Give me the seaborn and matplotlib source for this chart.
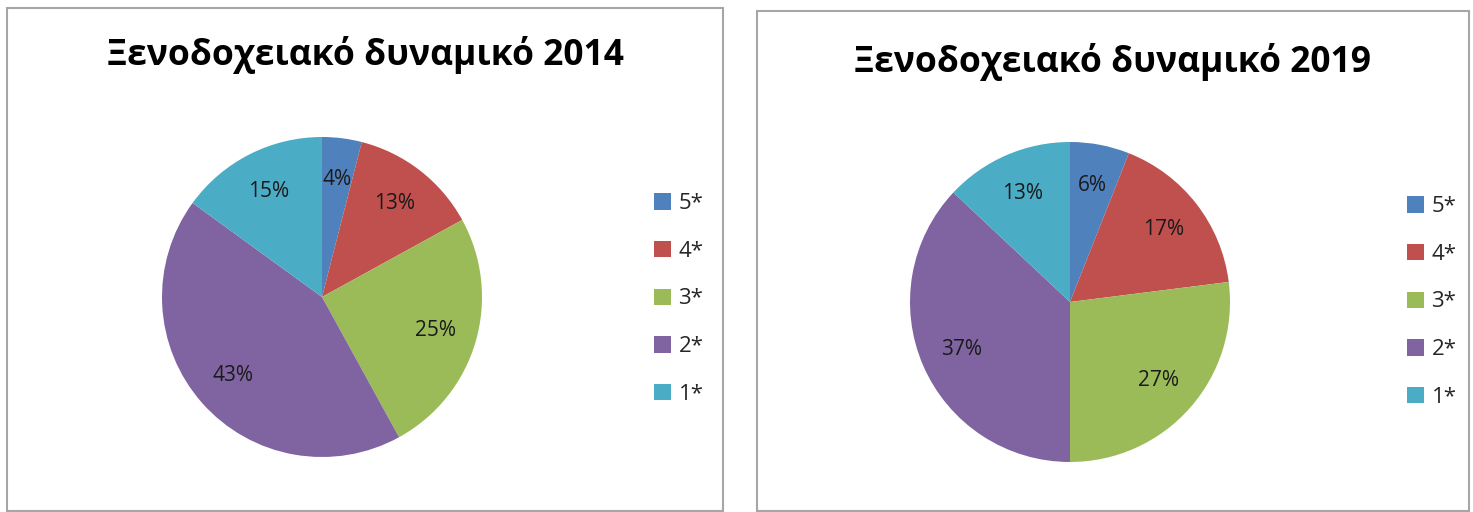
import numpy as np
import pandas as pd
import seaborn as sns
import matplotlib.pyplot as plt
from matplotlib.patches import Rectangle, Patch

sns.set_theme(style='white')
plt.rcParams['font.family'] = ['Open Sans', 'DejaVu Sans']

# Data
categories = ['5*', '4*', '3*', '2*', '1*']
shares_2014 = [4, 13, 25, 43, 15]
shares_2019 = [6, 17, 27, 37, 13]
titles = ['Ξενοδοχειακό δυναμικό 2014', 'Ξενοδοχειακό δυναμικό 2019']

colors = sns.color_palette(['#4F81BD', '#C0504D', '#9BBB59', '#8064A2', '#4BACC6'])

W, H = 1473, 512
fig = plt.figure(figsize=(W / 100, H / 100), dpi=100)


def px_box(x0, y0, x1, y1):
    """pixel box (top-left origin) -> figure fraction [l, b, w, h]"""
    return [x0 / W, 1 - y1 / H, (x1 - x0) / W, (y1 - y0) / H]


panels = [
    dict(data=shares_2014, title=titles[0], frame=(7, 8, 723, 511),
         pie=(162, 137, 482, 457), title_xy=(365, 55), legend_xy=(643, 182)),
    dict(data=shares_2019, title=titles[1], frame=(757, 11, 1469, 511),
         pie=(910, 142, 1230, 462), title_xy=(1113, 62), legend_xy=(1396, 185)),
]

for p in panels:
    x0, y0, x1, y1 = p['frame']
    fig.patches.append(Rectangle((x0 / W, 1 - y1 / H), (x1 - x0) / W, (y1 - y0) / H,
                                 transform=fig.transFigure, fill=False,
                                 edgecolor='#a6a6a6', linewidth=1.5))

    ax = fig.add_axes(px_box(*p['pie']))
    df = pd.DataFrame({'cat': categories, 'share': p['data']})
    wedges, _, autotexts = ax.pie(df['share'], colors=colors, startangle=90, counterclock=False,
                                  autopct=lambda v: f'{v:.0f}%', pctdistance=0.74,
                                  wedgeprops=dict(linewidth=0),
                                  textprops=dict(fontsize=15, color='#1a1a1a'))
    ax.set_xlim(-1, 1)
    ax.set_ylim(-1, 1)
    ax.set_aspect('equal')

    tx, ty = p['title_xy']
    fig.text(tx / W, 1 - ty / H, p['title'], ha='center', va='center',
             fontsize=25.5, fontweight='bold', color='black')

    handles = [Patch(facecolor=c, edgecolor='none') for c in colors]
    lx, ly = p['legend_xy']
    fig.legend(handles, categories, loc='upper left', bbox_to_anchor=(lx / W, 1 - ly / H),
               frameon=False, fontsize=16, labelspacing=1.2, handlelength=0.75,
               handleheight=0.75, handletextpad=0.35, borderpad=0)

fig.savefig('out.png', dpi=100)
